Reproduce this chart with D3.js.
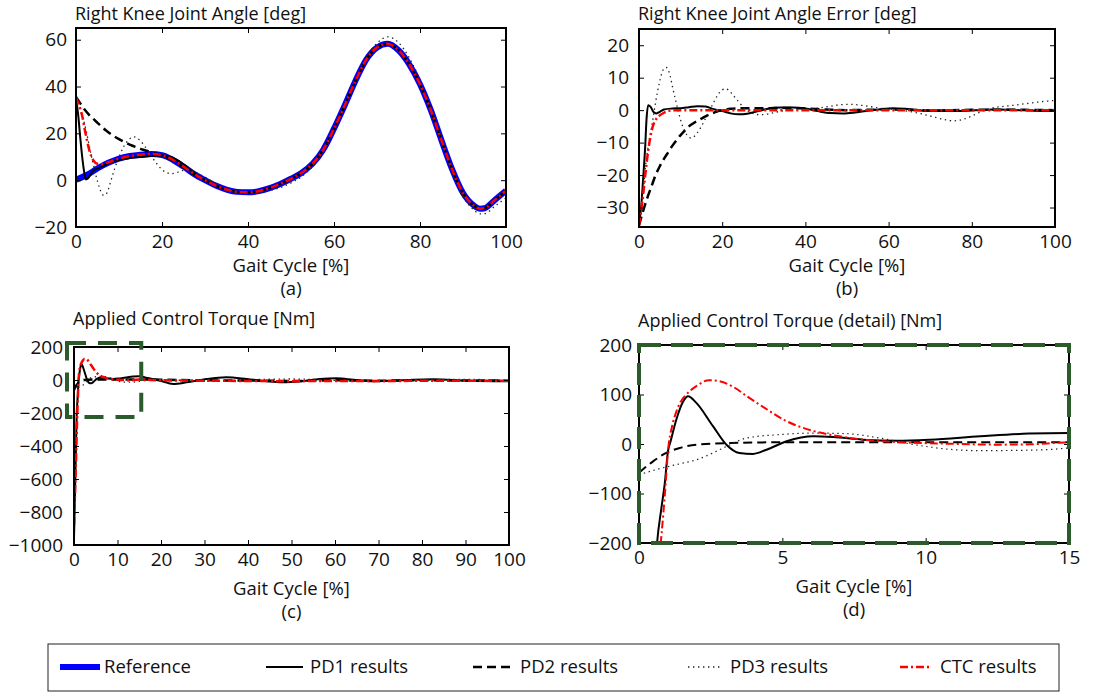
<!DOCTYPE html>
<html>
<head>
<meta charset="utf-8">
<script src="https://cdn.jsdelivr.net/npm/d3@7"></script>
<style>
  body { margin: 0; background: #fff; }
  svg { display: block; font-family: "Open Sans", sans-serif; }
</style>
</head>
<body>
<div id="chart"></div>
<script>
// ---------- data ----------

// (a) reference knee angle [deg] over gait cycle [%]
const refX = [0, 2.5, 5, 7.5, 10, 12.5, 15, 17.5, 20, 22.5, 25, 27.5, 30, 32.5, 35, 37.5, 40, 42.5, 45, 47.5,
  50, 52.5, 55, 57.5, 60, 62.5, 65, 67.5, 70, 72.5, 75, 77.5, 80, 82.5, 85, 87.5, 90, 92.5, 94, 95, 97.5, 100];
const refAngle = [0.2, 2.2, 5.0, 7.4, 9.2, 10.3, 10.9, 11.2, 10.7, 8.7, 5.8, 2.6, 0.0, -2.3, -4.0, -5.0, -5.2, -4.7, -3.4, -1.6,
  0.6, 3.2, 7.0, 13.0, 22.0, 32.0, 42.5, 51.5, 56.7, 58.3, 55.5, 49.5, 41.0, 30.0, 17.0, 4.5, -5.5, -10.8, -12.2, -12.0, -8.3, -4.5];

// (a) controller transients; after the last point each one sits on the reference
const pd1AngleStart = [[0, 35], [0.5, 28], [1, 18], [1.5, 9], [2, 2.5], [2.3, 0.3], [2.8, 0.8], [3.5, 2.8], [4.2, 4.3],
  [5, 5], [6, 5.8], [7, 6.7], [8, 7.5], [10, 8.6], [12.5, 9.5], [15, 9.9], [17.5, 10.3], [20, 10.5], [22.5, 9.6],
  [25, 6.8], [27.5, 3.1]];
const pd2AngleStart = [[0, 35.5], [1, 32.8], [2, 30.2], [3, 28], [4, 26.2], [5, 24.5], [6, 22.8], [7, 21.2], [8, 19.8],
  [9, 18.6], [10, 17.5], [11, 16.5], [12, 15.6], [13, 14.8], [14, 14.1], [15, 13.4], [16, 12.8], [17, 12.2],
  [18, 11.6], [20, 10.6], [22.5, 8.4], [25, 5.4], [27.5, 2.3]];
const ctcAngleStart = [[0, 35.5], [0.5, 33], [1, 30.5], [1.5, 27], [2, 22], [2.5, 17.5], [3, 13.5], [3.5, 10.5],
  [4, 8.6], [5, 7.0], [6, 6.8], [7, 7.3], [7.5, 7.6]];
const pd3Angle = [[0, 35], [0.5, 33], [1, 30], [1.5, 27], [2, 24], [2.5, 20], [3, 15.5], [3.5, 11], [4, 7], [4.5, 3],
  [5, -0.5], [5.5, -3.5], [6, -5.8], [6.5, -6.5], [7, -6], [7.5, -4], [8, -1], [9, 5], [10, 10], [11, 14], [12, 16.8],
  [13, 18.3], [13.5, 18.5], [14, 18.2], [15, 16.8], [16, 14.5], [17, 11.8], [18, 9], [19, 6.5], [20, 4.5], [21, 3.3],
  [22, 2.8], [23, 3], [24, 3.6], [25, 4.2], [26, 4.2], [27.5, 3.5], [30, 1.3], [32.5, -1.5], [35, -3.9], [37.5, -5.2],
  [40, -5.6], [42.5, -5.3], [45, -4.4], [47.5, -3.2], [50, -1.2], [52.5, 1.6], [55, 5.8], [57.5, 12.4], [60, 21.7],
  [62.5, 32.2], [65, 43], [67.5, 52.5], [70, 58.5], [72.5, 61.2], [75, 58.8], [77.5, 52.3], [80, 42.8], [82.5, 30.6],
  [85, 16.4], [87.5, 3.4], [90, -7], [92.5, -12.7], [94, -14.4], [95, -14.3], [97.5, -11], [100, -7.5]];

// (b) joint angle error [deg]
const pd1Error = [[0, -35], [0.5, -30], [1, -21], [1.5, -11], [1.8, -3], [2.2, 1.5], [2.8, 1.0], [3.5, -0.6], [4.2, -1],
  [5, -0.5], [6, 0.2], [8, 0.5], [10, 0.6], [12, 0.9], [14, 1.2], [16, 1.1], [18, 0.3], [20, -0.3], [22, -1.0],
  [24, -1.3], [26, -1.1], [28, -0.5], [31, 0.4], [34, 0.8], [37, 0.8], [40, 0.5], [43, -0.3], [46, -0.9], [49, -1.0],
  [52, -0.7], [55, -0.2], [58, 0.3], [61, 0.6], [64, 0.4], [67, 0], [70, -0.2], [75, -0.3], [80, -0.1], [85, 0.2],
  [90, 0.1], [95, -0.2], [100, -0.3]];
const pd2Error = [[0, -35.5], [1, -31], [2, -27], [3, -23.5], [4, -20], [5, -17.3], [6, -15], [7, -13], [8, -11],
  [9, -9.3], [10, -7.7], [11, -6.3], [12, -5], [13, -4.1], [14, -3.3], [15, -2.6], [16, -1.9], [17, -1.3], [18, -0.8],
  [19, -0.3], [20, 0], [22, 0.4], [25, 0.6], [30, 0.6], [35, 0.7], [40, 0.5], [45, 0.2], [50, 0], [55, 0.1], [60, 0.2],
  [65, 0.1], [70, -0.1], [80, 0.1], [90, 0.1], [100, 0]];
const pd3Error = [[0, -35], [0.5, -32], [1, -26], [1.5, -18], [2, -13], [2.5, -9], [3, -5.5], [3.5, -1.5], [4, 2.5],
  [4.5, 6], [5, 9], [5.5, 11.5], [6, 12.8], [6.5, 13.2], [7, 12.5], [7.5, 10.5], [8, 7.5], [9, 2], [10, -3], [11, -6.5],
  [12, -8.3], [12.5, -8.6], [13, -8.4], [14, -7], [15, -5], [16, -2.5], [17, 0], [18, 2.5], [19, 4.8], [20, 6.2],
  [20.7, 6.6], [21.5, 6.2], [22.5, 4.8], [24, 2.5], [25, 1], [27, -0.8], [29, -1.4], [31, -1.2], [33, -0.6], [36, 0],
  [39, 0.3], [42, 0.5], [45, 1], [48, 1.6], [50, 1.8], [52, 1.7], [55, 1.2], [58, 0.6], [61, 0.3], [64, -0.2],
  [67, -0.9], [70, -1.8], [73, -2.8], [75.5, -3.3], [78, -2.8], [80, -1.8], [82, -0.6], [84, 0.4], [86, 0.9],
  [88, 1.2], [90, 1.5], [93, 2], [96, 2.5], [100, 3]];
const ctcError = [[0, -35.5], [0.5, -31], [1, -26], [1.5, -20], [2, -14.5], [2.5, -10], [3, -6.5], [3.5, -4.3],
  [4, -3], [5, -1.6], [6, -0.8], [7, -0.3], [8, 0], [20, 0], [50, 0], [100, 0]];

// (c)/(d) applied control torque [Nm]
const pd1Torque = [[0, -960], [0.3, -600], [0.63, -200], [0.78, -130], [0.9, -79], [1.01, -15], [1.1, 5], [1.3, 49],
  [1.54, 86], [1.71, 96.6], [2.0, 83], [2.58, 36], [3.05, -1.4], [3.5, -18], [3.98, -20], [4.45, -11.5], [5.15, 5.4],
  [6.08, 15.5], [6.78, 14], [7.8, 8.8], [9, 6.8], [10.15, 8.8], [11.9, 15.5], [13.6, 21], [15, 22.3], [17, 12],
  [19.8, -4], [22.8, -24], [25.9, -14], [30.5, 6], [35, 16], [39.7, 6], [44.3, -8], [48, -14], [52, -8], [56.5, 6],
  [60.4, 10], [64.2, 2], [68.8, -8], [73.4, -4], [78, 2], [82.6, 4], [90.3, -4], [100, -8]];
const pd2Torque = [[0, -58], [0.49, -35], [0.95, -18], [1.42, -8], [2, -1.4], [3.2, 2], [4.9, 3.4], [7.2, 3.4],
  [9.6, 3.4], [15, 3.5], [20, 2], [30, -2], [40, -3], [50, -6], [60, -2], [70, -4], [80, -2], [90, -3], [100, -4]];
const pd3Torque = [[0, -62], [0.84, -48], [1.42, -40], [2, -32], [2.58, -18], [3.05, -5], [3.75, 12], [4.9, 19],
  [6.1, 22], [7.2, 21], [8.4, 12], [9.6, -1.3], [10.7, -10], [11.9, -13.5], [13, -13], [14.2, -11.5], [15, -8],
  [20, 2], [25, -2], [30, -6], [40, 2], [50, 6], [60, -2], [70, -10], [80, 0], [90, 4], [100, -2]];
const ctcTorque = [[0, -880], [0.4, -550], [0.76, -200], [0.85, -140], [0.93, -80], [1.01, -15], [1.15, 35],
  [1.3, 65], [1.45, 85], [1.65, 100], [2.0, 117], [2.45, 129], [2.8, 127], [3.3, 115], [3.75, 97], [4.3, 76],
  [5.15, 46], [6.1, 26], [7, 15.5], [7.8, 9], [9, 4], [10.7, 0.7], [12.5, -1.3], [13.6, -0.7], [15, 3], [20, -2],
  [30, -4], [40, -6], [50, -7], [60, -6], [70, -6], [80, -5], [90, -5], [100, -5]];

// axis ticks
const pctTicksWide = [0, 20, 40, 60, 80, 100];
const pctTicksTorque = [0, 10, 20, 30, 40, 50, 60, 70, 80, 90, 100];
const pctTicksDetail = [0, 5, 10, 15];
const angleTicks = [-20, 0, 20, 40, 60];
const errorTicks = [-30, -20, -10, 0, 10, 20];
const torqueTicks = [-1000, -800, -600, -400, -200, 0, 200];
const torqueDetailTicks = [-200, -100, 0, 100, 200];

const legendNames = ["Reference", "PD1 results", "PD2 results", "PD3 results", "CTC results"];
const seriesKeys = ["ref", "pd1", "pd2", "pd3", "ctc"];

// ---------- drawing ----------
const width = 1099, height = 692;
const textColor = "#111";
const zoomGreen = "#2b5b2b";
const tickFormat = d3.format("d"); // no thousands comma, unicode minus

const styles = {
  ref: { stroke: "#0000ff", width: 6, dash: null },
  pd1: { stroke: "#000", width: 2, dash: null },
  pd2: { stroke: "#000", width: 2.5, dash: "9,5" },
  pd3: { stroke: "#222", width: 1.3, dash: "1.4,3.6" },
  ctc: { stroke: "#ff0000", width: 2.5, dash: "8,3,2,3" },
};

const refPairs = refX.map((x, i) => [x, refAngle[i]]);
// controller curve = its transient, then the reference trace
const withRefTail = (start) => start.concat(refPairs.filter((p) => p[0] > start[start.length - 1][0]));

const svg = d3.select("#chart")
  .append("svg")
  .attr("width", width)
  .attr("height", height)
  .attr("viewBox", [0, 0, width, height]);

function drawPanel(p) {
  const x = d3.scaleLinear().domain(p.xDomain).range([p.left, p.right]);
  const y = d3.scaleLinear().domain(p.yDomain).range([p.bottom, p.top]);
  const g = svg.append("g");

  const clipId = "clip-" + p.id;
  g.append("clipPath").attr("id", clipId)
    .append("rect")
    .attr("x", p.left).attr("y", p.top)
    .attr("width", p.right - p.left).attr("height", p.bottom - p.top);

  const line = d3.line()
    .x((d) => x(d[0]))
    .y((d) => y(d[1]))
    .curve(d3.curveMonotoneX);

  const lines = g.append("g").attr("clip-path", `url(#${clipId})`);
  p.series.forEach((s) => {
    const st = styles[s.key];
    lines.append("path")
      .datum(s.data)
      .attr("fill", "none")
      .attr("stroke", st.stroke)
      .attr("stroke-width", s.width || st.width)
      .attr("stroke-dasharray", st.dash)
      .attr("stroke-linejoin", "round")
      .attr("d", line);
  });

  // MATLAB style box with inward ticks on all four sides
  const tick = 5;
  const styleAxis = (sel) => {
    sel.select(".domain").remove();
    sel.attr("font-family", null).attr("font-size", null);
    sel.selectAll(".tick line").attr("stroke", "#000");
    sel.selectAll(".tick text").attr("fill", textColor).style("font-size", "19px");
  };
  g.append("g")
    .attr("transform", `translate(0,${p.bottom})`)
    .call(d3.axisBottom(x).tickValues(p.xTicks).tickFormat(tickFormat)
      .tickSizeInner(-tick).tickSizeOuter(0).tickPadding(8))
    .call(styleAxis);
  g.append("g")
    .attr("transform", `translate(0,${p.top})`)
    .call(d3.axisTop(x).tickValues(p.xTicks).tickSizeInner(-tick).tickSizeOuter(0).tickFormat(""))
    .call(styleAxis);
  g.append("g")
    .attr("transform", `translate(${p.left},0)`)
    .call(d3.axisLeft(y).tickValues(p.yTicks).tickFormat(tickFormat)
      .tickSizeInner(-tick).tickSizeOuter(0).tickPadding(p.yPad))
    .call(styleAxis);
  g.append("g")
    .attr("transform", `translate(${p.right},0)`)
    .call(d3.axisRight(y).tickValues(p.yTicks).tickSizeInner(-tick).tickSizeOuter(0).tickFormat(""))
    .call(styleAxis);

  g.append("rect")
    .attr("x", p.left).attr("y", p.top)
    .attr("width", p.right - p.left).attr("height", p.bottom - p.top)
    .attr("fill", "none").attr("stroke", "#000").attr("stroke-width", 2);

  g.append("text")
    .attr("x", p.left - 1).attr("y", p.titleY)
    .attr("fill", textColor).style("font-size", "18px")
    .text(p.title);
  g.append("text")
    .attr("x", (p.left + p.right) / 2).attr("y", p.labelY)
    .attr("text-anchor", "middle")
    .attr("fill", textColor).style("font-size", "18.5px")
    .text("Gait Cycle [%]");
  g.append("text")
    .attr("x", (p.left + p.right) / 2).attr("y", p.tagY)
    .attr("text-anchor", "middle")
    .attr("fill", textColor).style("font-size", "18.5px")
    .text(p.tag);

  return { x, y, g };
}

drawPanel({
  id: "a", left: 76, right: 506, top: 28, bottom: 227,
  xDomain: [0, 100], yDomain: [-20, 65], xTicks: pctTicksWide, yTicks: angleTicks, yPad: 9,
  title: "Right Knee Joint Angle [deg]", titleY: 20, labelY: 272, tagY: 295, tag: "(a)",
  series: [
    { key: "ref", data: refPairs },
    { key: "pd1", data: withRefTail(pd1AngleStart) },
    { key: "pd2", data: withRefTail(pd2AngleStart) },
    { key: "pd3", data: pd3Angle },
    { key: "ctc", data: withRefTail(ctcAngleStart) },
  ],
});

drawPanel({
  id: "b", left: 639, right: 1055, top: 29, bottom: 227,
  xDomain: [0, 100], yDomain: [-36, 25], xTicks: pctTicksWide, yTicks: errorTicks, yPad: 10,
  title: "Right Knee Joint Angle Error [deg]", titleY: 20, labelY: 272, tagY: 295, tag: "(b)",
  series: [
    { key: "pd1", data: pd1Error },
    { key: "pd2", data: pd2Error },
    { key: "pd3", data: pd3Error },
    { key: "ctc", data: ctcError },
  ],
});

const torqueSeries = [
  { key: "pd1", data: pd1Torque },
  { key: "pd2", data: pd2Torque },
  { key: "pd3", data: pd3Torque },
  { key: "ctc", data: ctcTorque },
];

const detailX = d3.extent(pctTicksDetail);
const detailY = d3.extent(torqueDetailTicks);

const c = drawPanel({
  id: "c", left: 74, right: 509, top: 347, bottom: 545,
  xDomain: [0, 100], yDomain: d3.extent(torqueTicks), xTicks: pctTicksTorque, yTicks: torqueTicks, yPad: 11,
  title: "Applied Control Torque [Nm]", titleY: 325, labelY: 595, tagY: 618, tag: "(c)",
  series: torqueSeries,
});

const d = drawPanel({
  id: "d", left: 639, right: 1069, top: 345, bottom: 543,
  xDomain: detailX, yDomain: detailY, xTicks: pctTicksDetail, yTicks: torqueDetailTicks, yPad: 7,
  title: "Applied Control Torque (detail) [Nm]", titleY: 327, labelY: 593, tagY: 616, tag: "(d)",
  series: torqueSeries.map((s) => ({ ...s, width: s.key === "pd3" ? 1.2 : 2 })),
});

// zoom window marked on (c), and the same window framing (d)
c.g.append("rect")
  .attr("x", c.x(detailX[0]) - 7).attr("y", c.y(detailY[1]) - 4)
  .attr("width", c.x(detailX[1]) - c.x(detailX[0]) + 9)
  .attr("height", c.y(detailY[0]) - c.y(detailY[1]) + 8)
  .attr("fill", "none").attr("stroke", zoomGreen)
  .attr("stroke-width", 4).attr("stroke-dasharray", "19,12");

d.g.append("rect")
  .attr("x", d.x(detailX[0])).attr("y", d.y(detailY[1]))
  .attr("width", d.x(detailX[1]) - d.x(detailX[0]))
  .attr("height", d.y(detailY[0]) - d.y(detailY[1]))
  .attr("fill", "none").attr("stroke", zoomGreen)
  .attr("stroke-width", 4).attr("stroke-dasharray", "22,10");

// ---------- legend ----------
const legend = svg.append("g");
legend.append("rect")
  .attr("x", 48).attr("y", 644).attr("width", 1011).attr("height", 47)
  .attr("fill", "#fff").attr("stroke", "#222").attr("stroke-width", 1);

const legendSlots = [[60, 100, 104], [266, 303, 310], [473, 515, 520], [688, 723, 730], [900, 932, 940]];
legendNames.forEach((name, i) => {
  const st = styles[seriesKeys[i]];
  const [x0, x1, tx] = legendSlots[i];
  legend.append("line")
    .attr("x1", x0).attr("x2", x1).attr("y1", 667).attr("y2", 667)
    .attr("stroke", st.stroke).attr("stroke-width", st.width)
    .attr("stroke-dasharray", st.dash);
  legend.append("text")
    .attr("x", tx).attr("y", 673)
    .attr("fill", textColor).style("font-size", "18.5px")
    .text(name);
});
</script>
</body>
</html>
